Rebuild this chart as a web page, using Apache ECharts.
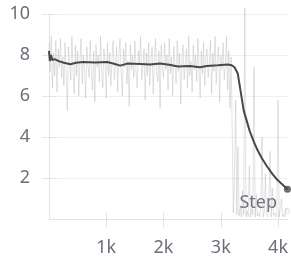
<!DOCTYPE html>
<html>
<head>
    <meta charset="UTF-8">
    <title>Step</title>
    <script src="https://cdn.jsdelivr.net/npm/echarts@6/dist/echarts.min.js"></script>
    <style>
        html, body { margin: 0; padding: 0; background: #fff; }
        #chart { width: 291px; height: 258px; }
    </style>
</head>
<body>
<div id="chart"></div>
<script>
    // raw values, one every 20 steps from step 0
    var rawGap = 20;
    var rawValues = [
        8.6, 7.2, 8.9, 6.4, 8.1, 7.0, 8.7, 6.2, 8.3, 7.4, 8.8, 6.9, 7.9, 6.5, 8.6, 7.1, 5.3, 8.4, 7.6, 6.8,
        8.9, 7.3, 6.1, 8.5, 7.0, 8.2, 6.0, 7.7, 8.8, 6.6, 8.0, 7.2, 5.9, 8.4, 7.5, 6.9, 8.7, 7.1, 6.3, 8.2,
        5.7, 8.5, 7.4, 8.0, 6.7, 8.9, 7.2, 6.4, 8.3, 7.6, 5.9, 8.6, 7.0, 8.1, 6.5, 7.8, 8.7, 6.8, 7.5, 8.4,
        6.2, 7.9, 8.8, 7.1, 6.0, 8.3, 7.4, 8.6, 6.6, 7.7, 5.5, 8.5, 7.3, 8.0, 6.9, 8.7, 7.2, 6.4, 8.2, 7.6,
        8.9, 6.8, 7.5, 8.3, 5.8, 8.1, 7.0, 8.6, 6.5, 7.8, 8.4, 6.1, 7.7, 8.8, 7.2, 6.7, 8.2, 5.4, 8.5, 7.4,
        6.9, 8.6, 7.3, 8.0, 6.3, 8.8, 7.1, 7.9, 6.0, 8.4, 7.5, 6.6, 8.7, 7.2, 8.1, 5.6, 7.8, 8.5, 6.8, 7.6,
        8.3, 6.4, 8.9, 7.0, 7.7, 6.2, 8.5, 7.3, 8.0, 6.7, 8.8, 7.4, 5.9, 8.2, 7.1, 8.6, 6.5, 7.9, 8.3, 6.9,
        7.6, 8.7, 6.1, 8.1, 7.2, 8.9, 6.6, 7.8, 8.4, 5.7, 8.0, 7.3, 8.6, 6.8, 7.5, 8.9, 6.3, 8.2, 5.4, 7.9,
        4.2, 0.3, 2.1, 5.8, 0.2, 3.5, 0.15, 0.6, 0.1, 1.4, 0.2, 10.3, 0.1, 0.4, 0.12, 2.6, 0.1, 0.5, 0.2, 7.4,
        0.1, 1.2, 0.15, 0.3, 0.1, 0.6, 4.0, 0.1, 0.3, 2.2, 0.2, 0.1, 0.6, 3.3, 0.1, 1.5, 0.2, 0.3, 0.1, 0.4,
        5.8, 0.1, 0.15, 1.0, 0.1, 0.25, 0.1, 0.5, 0.4
    ];

    // smoothed curve
    var smoothSteps = [0, 15, 35, 60, 100, 170, 260, 374, 470, 600, 800, 1017, 1150, 1243, 1365, 1600, 1765, 1939,
        2100, 2252, 2460, 2635, 2757, 2950, 3122, 3191, 3240, 3296, 3400, 3504, 3580, 3643, 3720, 3800, 3900,
        3991, 4010, 4090, 4165];
    var smoothValues = [8.2, 7.7, 8.0, 7.75, 7.8, 7.7, 7.62, 7.55, 7.62, 7.66, 7.64, 7.66, 7.56, 7.48, 7.58, 7.56, 7.54, 7.58,
        7.52, 7.44, 7.46, 7.4, 7.46, 7.5, 7.54, 7.5, 7.4, 7.1, 5.3, 4.3, 3.75, 3.35, 2.95, 2.6, 2.2,
        1.9, 1.9, 1.65, 1.45];

    var xTicks = [1000, 2000, 3000, 4000];
    var yTicks = [2, 4, 6, 8, 10];
    var xMax = 4174;

    var rawData = rawValues.map(function (v, i) { return [i * rawGap, v]; });
    var smoothData = smoothSteps.map(function (s, i) { return [s, smoothValues[i]]; });
    var lastRaw = rawData[rawData.length - 1];
    var lastSmooth = smoothData[smoothData.length - 1];

    var labelColor = '#6c6f78';
    var font = 'Noto Sans';

    var chart = echarts.init(document.getElementById('chart'));
    var option = {
        animation: false,
        grid: { left: 49, right: 2, top: 14, bottom: 39 },
        xAxis: [
            {
                type: 'value', min: 0, max: xMax,
                name: 'Step', nameLocation: 'end', nameGap: -11,
                nameTextStyle: {
                    color: labelColor, fontFamily: font, fontSize: 18,
                    align: 'right', verticalAlign: 'bottom', padding: [0, 0, 7, 0],
                    backgroundColor: 'rgba(255,255,255,0.6)'
                },
                axisLine: { show: true, lineStyle: { color: '#e4e4e4', width: 1 } },
                axisTick: { show: true, length: 8, customValues: xTicks, lineStyle: { color: '#e4e4e4' } },
                axisLabel: {
                    customValues: xTicks, margin: 20, color: labelColor, fontFamily: font, fontSize: 18,
                    formatter: function (v) { return (v / 1000) + 'k'; }
                },
                splitLine: { show: false }
            },
            {
                type: 'value', min: 0, max: xMax, position: 'bottom',
                axisLine: { show: false },
                axisTick: { show: true, inside: true, length: 7, customValues: xTicks, lineStyle: { color: '#e4e4e4' } },
                axisLabel: { show: false },
                splitLine: { show: false }
            }
        ],
        yAxis: [
            {
                type: 'value', min: 0, max: 10, interval: 2,
                axisLine: { show: true, lineStyle: { color: '#e4e4e4', width: 1 } },
                axisTick: { show: true, length: 7, customValues: yTicks, lineStyle: { color: '#e4e4e4' } },
                axisLabel: { customValues: yTicks, margin: 19, color: labelColor, fontFamily: font, fontSize: 18 },
                splitLine: { show: true, lineStyle: { color: '#f0f0f0', width: 1 } }
            },
            {
                type: 'value', min: 0, max: 10, interval: 2, position: 'left',
                axisLine: { show: false },
                axisTick: { show: true, inside: true, length: 8, customValues: yTicks, lineStyle: { color: '#e4e4e4' } },
                axisLabel: { show: false },
                splitLine: { show: false }
            }
        ],
        series: [
            {
                name: 'raw', type: 'line', data: rawData, clip: false,
                symbol: 'none', silent: true,
                lineStyle: { color: 'rgba(160,160,160,0.3)', width: 1 }
            },
            {
                name: 'raw end', type: 'scatter', data: [lastRaw],
                symbol: 'circle', symbolSize: 5, silent: true,
                itemStyle: { color: '#fff', borderColor: '#d8d8d8', borderWidth: 1 }
            },
            {
                name: 'smooth', type: 'line', data: smoothData,
                symbol: 'none', silent: true,
                lineStyle: { color: '#484848', width: 2 }
            },
            {
                name: 'smooth end', type: 'scatter', data: [lastSmooth],
                symbol: 'circle', symbolSize: 7, silent: true, clip: false,
                itemStyle: { color: '#484848' }
            }
        ]
    };
    chart.setOption(option);
</script>
</body>
</html>
